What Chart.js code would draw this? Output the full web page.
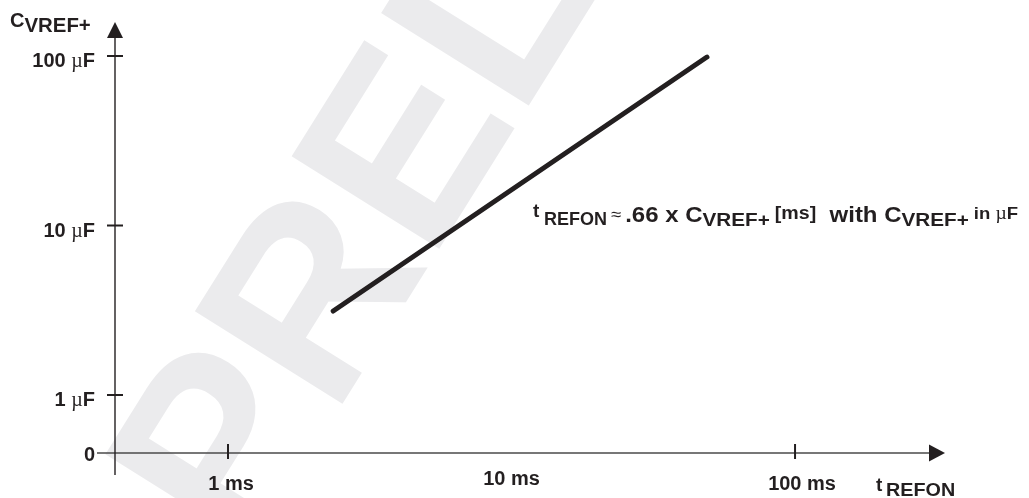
<!DOCTYPE html>
<html><head><meta charset="utf-8">
<script src="https://cdn.jsdelivr.net/npm/chart.js@4"></script>
<style>html,body{margin:0;padding:0;background:#fff}#wrap{width:1029px;height:498px;position:relative}</style>
</head><body><div id="wrap"><canvas id="c" width="1029" height="498"></canvas></div>
<script>
// ---- data ----
const lineTimesMs = [2.35, 48.9];     // t_REFON (ms)
const lineCapUF   = [3.13, 98.6];     // C_VREF+ (uF)
const xTickValues = [1, 10, 100];
const xTickLabels = ['1 ms', '10 ms', '100 ms'];
const xTickMarked = [true, false, true];
const yTickValues = [1, 10, 100];
const yTickNumbers = ['1', '10', '100'];
const yTickUnit = 'µF';
const yOriginLabel = '0';
const xRange = [0.3994, 338];
const yRange = [0.4549, 158.7];
const xTitle = ['t', 'REFON'];
const yTitle = ['C', 'VREF+'];
const watermarkText = 'PRELIMINARY';

const SANS = '"Liberation Sans", Arial, Helvetica, sans-serif';
const SERIF = '"Liberation Serif", "Times New Roman", serif';

const points = lineTimesMs.map((t, i) => ({ x: t, y: lineCapUF[i] }));

function drawSegments(ctx, x, segs) {
  ctx.textAlign = 'left';
  ctx.textBaseline = 'alphabetic';
  for (const s of segs) {
    if (s.at !== undefined) x = s.at;
    const sx = s.sx || 1;
    ctx.font = s.font;
    ctx.fillStyle = s.color || '#231f20';
    ctx.save();
    ctx.translate(x, s.y);
    ctx.scale(sx, 1);
    ctx.fillText(s.t, 0, 0);
    ctx.restore();
    x += ctx.measureText(s.t).width * sx + (s.gap || 0);
  }
  return x;
}

const watermark = {
  id: 'watermark',
  beforeDraw(chart) {
    const ctx = chart.ctx;
    ctx.save();
    ctx.fillStyle = '#ffffff';
    ctx.fillRect(0, 0, chart.width, chart.height);
    ctx.translate(244, 561);
    ctx.rotate(-58 * Math.PI / 180);
    ctx.font = 'bold 253px ' + SANS;
    ctx.fillStyle = '#ebebed';
    ctx.textBaseline = 'alphabetic';
    ctx.fillText(watermarkText, 0, 0);
    ctx.restore();
  }
};

const axes = {
  id: 'axes',
  afterDraw(chart) {
    const ctx = chart.ctx;
    const xs = chart.scales.x, ys = chart.scales.y;
    const ca = chart.chartArea;
    const ax = ca.left, ay = ca.bottom;
    ctx.save();
    // x axis
    ctx.strokeStyle = '#4a4a4a';
    ctx.lineWidth = 1.6;
    ctx.beginPath();
    ctx.moveTo(ax - 18, ay); ctx.lineTo(ca.right - 15, ay); ctx.stroke();
    ctx.fillStyle = '#231f20';
    ctx.beginPath();
    ctx.moveTo(ca.right, ay); ctx.lineTo(ca.right - 16, ay - 8.5); ctx.lineTo(ca.right - 16, ay + 8.5); ctx.closePath(); ctx.fill();
    // y axis
    ctx.strokeStyle = '#231f20';
    ctx.lineWidth = 1.4;
    ctx.beginPath();
    ctx.moveTo(ax, ca.top + 15); ctx.lineTo(ax, ay + 22); ctx.stroke();
    ctx.beginPath();
    ctx.moveTo(ax, ca.top); ctx.lineTo(ax - 8, ca.top + 16); ctx.lineTo(ax + 8, ca.top + 16); ctx.closePath(); ctx.fill();
    // y ticks
    ctx.lineWidth = 2;
    yTickValues.forEach((v, i) => {
      const py = ys.getPixelForValue(v);
      ctx.beginPath(); ctx.moveTo(ax - 8, py); ctx.lineTo(ax + 8, py); ctx.stroke();
      ctx.font = '20px ' + SERIF;
      const uw = ctx.measureText('µ').width;
      ctx.font = 'bold 20px ' + SANS;
      const fw = ctx.measureText('F').width;
      const nw = ctx.measureText(yTickNumbers[i] + ' ').width;
      const x0 = 95 - fw - uw - nw;
      drawSegments(ctx, x0, [
        { t: yTickNumbers[i] + ' ', font: 'bold 20px ' + SANS, y: py + 11 },
        { t: yTickUnit[0], font: '20px ' + SERIF, y: py + 11 },
        { t: yTickUnit.slice(1), font: 'bold 20px ' + SANS, y: py + 11 }
      ]);
    });
    ctx.font = 'bold 20px ' + SANS;
    ctx.textAlign = 'right';
    ctx.fillText(yOriginLabel, 95, ay + 8);
    // x ticks
    const dxs = [3, 0, 7];
    xTickValues.forEach((v, i) => {
      const px = xs.getPixelForValue(v);
      if (xTickMarked[i]) {
        ctx.beginPath(); ctx.moveTo(px, ay - 9); ctx.lineTo(px, ay + 6); ctx.stroke();
      }
      ctx.font = 'bold 20px ' + SANS;
      ctx.textAlign = 'center';
      ctx.textBaseline = 'alphabetic';
      const dy = i === 1 ? 32 : 37;
      ctx.fillText(xTickLabels[i], px + dxs[i], ay + dy);
    });
    // axis titles
    drawSegments(ctx, 876, [
      { t: xTitle[0], font: 'bold 19px ' + SANS, y: 491 },
      { t: xTitle[1], font: 'bold 19px ' + SANS, y: 496, at: 886, sx: 1.04 }
    ]);
    drawSegments(ctx, 10, [
      { t: yTitle[0], font: 'bold 20px ' + SANS, y: 27 },
      { t: yTitle[1], font: 'bold 20px ' + SANS, y: 32, sx: 1.02 }
    ]);
    // annotation
    const k = 1.09;
    drawSegments(ctx, 533, [
      { t: 't', font: 'bold 19px ' + SANS, y: 217 },
      { t: 'REFON', font: 'bold 18px ' + SANS, y: 225, at: 544, gap: 4 },
      { t: '≈', font: '17px ' + SANS, y: 220, gap: 4, sx: k },
      { t: '.66 x C', font: 'bold 22px ' + SANS, y: 222, sx: k },
      { t: 'VREF+', font: 'bold 19px ' + SANS, y: 226, gap: 5, sx: k },
      { t: '[ms]', font: 'bold 18px ' + SANS, y: 219, sx: k },
      { t: '  with C', font: 'bold 22px ' + SANS, y: 222, sx: k },
      { t: 'VREF+', font: 'bold 19px ' + SANS, y: 226, gap: 5, sx: k },
      { t: 'in ', font: 'bold 17px ' + SANS, y: 219, sx: k },
      { t: 'µ', font: '18px ' + SERIF, y: 219, sx: k },
      { t: 'F', font: 'bold 17px ' + SANS, y: 219, sx: k }
    ]);
    ctx.restore();
  }
};

new Chart(document.getElementById('c'), {
  type: 'line',
  data: {
    datasets: [{
      data: points,
      borderColor: '#231f20',
      borderWidth: 5,
      borderCapStyle: 'round',
      pointRadius: 0,
      tension: 0,
      fill: false,
      clip: false
    }]
  },
  options: {
    responsive: false,
    animation: false,
    devicePixelRatio: 1,
    layout: { padding: { left: 115, right: 84, top: 22, bottom: 45 } },
    scales: {
      x: { type: 'logarithmic', min: xRange[0], max: xRange[1], display: false },
      y: { type: 'logarithmic', min: yRange[0], max: yRange[1], display: false }
    },
    plugins: { legend: { display: false }, tooltip: { enabled: false } }
  },
  plugins: [watermark, axes]
});
</script>
</body></html>
